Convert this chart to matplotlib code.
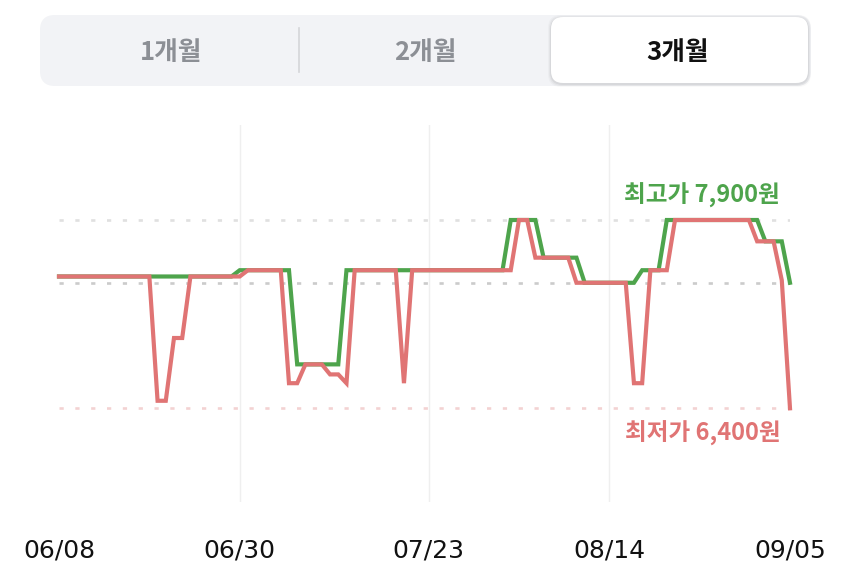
import matplotlib
matplotlib.use("Agg")
import matplotlib.pyplot as plt
from matplotlib.patches import FancyBboxPatch
from matplotlib.transforms import blended_transform_factory
import pandas as pd

plt.rcParams['font.family'] = ['Noto Sans CJK KR', 'DejaVu Sans']

# ---------------- data ----------------
start_date = "2024-06-08"
end_date = "2024-09-05"

max_price = [
    7450, 7450, 7450, 7450, 7450, 7450, 7450, 7450, 7450, 7450, 7450,
    7450, 7450, 7450, 7450, 7450, 7450, 7450, 7450, 7450, 7450, 7450,
    7500, 7500, 7500, 7500, 7500, 7500, 7500,
    6750, 6750, 6750, 6750, 6750, 6750,
    7500, 7500, 7500, 7500, 7500, 7500, 7500, 7500, 7500, 7500,
    7500, 7500, 7500, 7500, 7500, 7500, 7500, 7500, 7500, 7500,
    7900, 7900, 7900, 7900,
    7600, 7600, 7600, 7600, 7600,
    7400, 7400, 7400, 7400, 7400, 7400, 7400,
    7500, 7500, 7500,
    7900, 7900, 7900, 7900, 7900, 7900, 7900, 7900, 7900, 7900, 7900, 7900,
    7730, 7730, 7730,
    7400,
]

min_price = [
    7450, 7450, 7450, 7450, 7450, 7450, 7450, 7450, 7450, 7450, 7450, 7450,
    6460, 6460,
    6960, 6960,
    7450, 7450, 7450, 7450, 7450, 7450, 7450,
    7500, 7500, 7500, 7500, 7500,
    6600, 6600,
    6750, 6750, 6750,
    6670, 6670,
    6600,
    7500, 7500, 7500, 7500, 7500, 7500,
    6600,
    7500, 7500, 7500, 7500, 7500, 7500, 7500, 7500, 7500, 7500, 7500, 7500, 7500,
    7900, 7900,
    7600, 7600, 7600, 7600, 7600,
    7400, 7400, 7400, 7400, 7400, 7400, 7400,
    6600, 6600,
    7500, 7500, 7500,
    7900, 7900, 7900, 7900, 7900, 7900, 7900, 7900, 7900, 7900,
    7730, 7730, 7730,
    7420,
    6400,
]

highest = 7900
lowest = 6400
average = 7400

tick_dates = ["2024-06-08", "2024-06-30", "2024-07-23", "2024-08-14", "2024-09-05"]
tick_labels = ["06/08", "06/30", "07/23", "08/14", "09/05"]
grid_dates = ["2024-06-30", "2024-07-23", "2024-08-14"]

tabs = ["1개월", "2개월", "3개월"]
selected_tab = 2

high_label = "최고가 7,900원"
low_label = "최저가 6,400원"

# ---------------- figure ----------------
W, H = 850, 580
fig = plt.figure(figsize=(W / 100, H / 100), dpi=100)
fig.patch.set_facecolor("white")

GREEN = "#4ea44c"
RED = "#e07474"

dates = pd.date_range(start_date, end_date, freq="D")
days = (dates - dates[0]).days.to_numpy()

def day_of(d):
    return (pd.Timestamp(d) - dates[0]).days

# axes placement (pixels)
x0_px, x1_px = 59, 790
y_top_px, y_bot_px = 125, 502
ax = fig.add_axes([x0_px / W, 1 - y_bot_px / H, (x1_px - x0_px) / W, (y_bot_px - y_top_px) / H])
ax.set_xlim(0, days[-1])
# y mapping: 7900 -> 220px, 6400 -> 408.3px
ppw = (408.3 - 220) / (highest - lowest)
ax.set_ylim(lowest - (y_bot_px - 408.3) / ppw, highest + (220 - y_top_px) / ppw)
ax.axis("off")

for gd in grid_dates:
    ax.axvline(day_of(gd), color="#efefef", lw=1.0, zorder=0)

dot = (0, (1.6, 4.4))
ax.axhline(highest, color="#e0e0e0", lw=1.9, ls=dot, zorder=1)
ax.axhline(average, color="#cbcbcb", lw=1.9, ls=dot, zorder=1)
ax.axhline(lowest, color="#f3d2d2", lw=1.9, ls=dot, zorder=1)

ax.plot(days, max_price, color=GREEN, lw=3.0, solid_joinstyle="miter", zorder=3, clip_on=False)
ax.plot(days, min_price, color=RED, lw=3.0, solid_joinstyle="miter", zorder=4, clip_on=False)

ax.text(87.8, highest + 25 / ppw, high_label, color=GREEN, fontsize=17,
        fontweight="bold", ha="right", va="center")
ax.text(87.8, lowest - 25 / ppw, low_label, color=RED, fontsize=17,
        fontweight="bold", ha="right", va="center")

trans = blended_transform_factory(ax.transData, fig.transFigure)
for d, lab in zip(tick_dates, tick_labels):
    ax.text(day_of(d), 1 - 550 / H, lab, transform=trans, ha="center", va="center",
            fontsize=18, color="#111111", family=["DejaVu Sans"], clip_on=False)

# ---------------- segmented control ----------------
hx = fig.add_axes([0, 0, 1, 1], zorder=-1)
hx.set_xlim(0, W)
hx.set_ylim(H, 0)
hx.axis("off")

bg = FancyBboxPatch((40, 15), 771, 71, boxstyle="round,pad=0,rounding_size=15",
                    fc="#f2f3f6", ec="none")
hx.add_patch(bg)
# soft shadow for selected tab
for dx, a in [(3, 0.025), (2, 0.035), (1, 0.05)]:
    sh = FancyBboxPatch((551 - dx, 17 - dx + 1.0), 257 + 2 * dx, 66 + 2 * dx,
                        boxstyle="round,pad=0,rounding_size=13", fc="black", alpha=a, ec="none")
    hx.add_patch(sh)
sel = FancyBboxPatch((551, 17), 257, 66, boxstyle="round,pad=0,rounding_size=12",
                     fc="white", ec="none")
hx.add_patch(sel)
hx.plot([299, 299], [28, 72], color="#d4d5d9", lw=1.2)

tab_centers = [171, 425, 678]
for i, (t, cx) in enumerate(zip(tabs, tab_centers)):
    hx.text(cx, 53, t, ha="center", va="center", fontsize=18.5, fontweight="bold",
            color="#111111" if i == selected_tab else "#8c8f95")

fig.savefig("out.png", dpi=100, facecolor="white")
